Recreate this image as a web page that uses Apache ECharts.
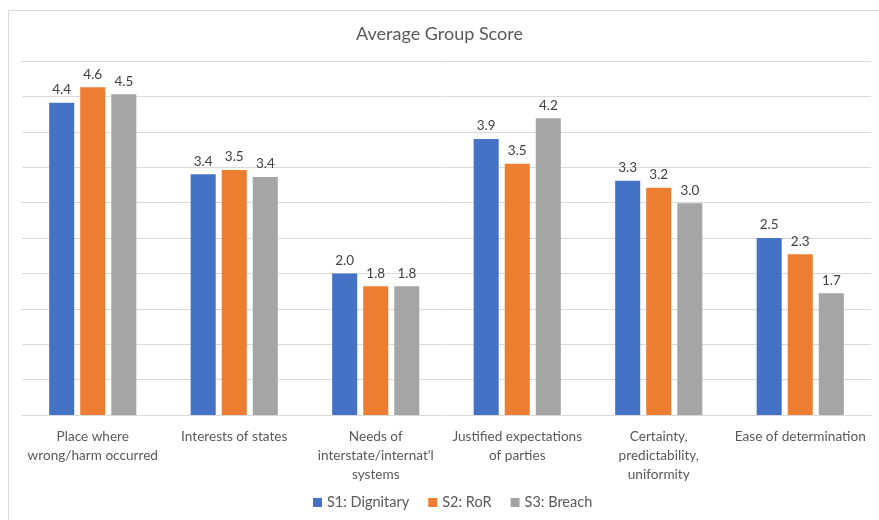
<!DOCTYPE html>
<html><head><meta charset="utf-8">
<script src="https://cdn.jsdelivr.net/npm/echarts@6/dist/echarts.min.js"></script>
<style>html,body{margin:0;padding:0;background:#fff}#c{width:879px;height:520px}</style>
</head><body><div id="c"></div>
<script>
const categories = ["Place where\nwrong/harm occurred", "Interests of states", "Needs of\ninterstate/internat'l\nsystems", "Justified expectations\nof parties", "Certainty,\npredictability,\nuniformity", "Ease of determination"];
const s1Dignitary = [4.41, 3.40, 2.00, 3.90, 3.31, 2.50];
const s2RoR = [4.63, 3.46, 1.82, 3.55, 3.21, 2.27];
const s3Breach = [4.53, 3.36, 1.82, 4.19, 2.99, 1.72];
const seriesNames = ["S1: Dignitary", "S2: RoR", "S3: Breach"];
const colors = ["#4472C4", "#ED7D31", "#A5A5A5"];
const font = "Lato, 'Open Sans', sans-serif";
const chart = echarts.init(document.getElementById('c'));
const mk = (name, data, color) => ({
  name, type: 'bar', data, barWidth: '17.7%', barGap: '24%',
  itemStyle: { color },
  label: { show: true, position: 'top', distance: 6, color: '#404040', fontSize: 13.5, fontFamily: font,
    formatter: p => p.value.toFixed(1) }
});
chart.setOption({
  animation: false,
  textStyle: { fontFamily: font },
  title: { text: 'Average Group Score', left: 'center', top: 20,
    textStyle: { fontSize: 18, fontWeight: 'normal', color: '#595959', fontFamily: font } },
  legend: { bottom: 5, left: 308, itemWidth: 9, itemHeight: 9, itemGap: 19, icon: 'rect',
    textStyle: { fontSize: 14.5, color: '#595959', fontFamily: font } },
  grid: { left: 22, right: 8, top: 61, bottom: 105 },
  xAxis: { type: 'category', data: categories,
    axisLine: { lineStyle: { color: '#d9d9d9' } }, axisTick: { show: false },
    axisLabel: { color: '#595959', fontSize: 13.6, fontFamily: font, interval: 0, margin: 12, lineHeight: 19 } },
  yAxis: { type: 'value', min: 0, max: 5, interval: 0.5,
    axisLabel: { show: false }, axisLine: { show: false }, axisTick: { show: false },
    splitLine: { lineStyle: { color: '#d9d9d9' } } },
  graphic: [{ type: 'rect', shape: { x: 8.5, y: 10.5, width: 900, height: 600 },
    style: { fill: 'none', stroke: '#d9d9d9', lineWidth: 1 }, silent: true, z: -1 }],
  series: [mk(seriesNames[0], s1Dignitary, colors[0]), mk(seriesNames[1], s2RoR, colors[1]), mk(seriesNames[2], s3Breach, colors[2])]
});
</script></body></html>
